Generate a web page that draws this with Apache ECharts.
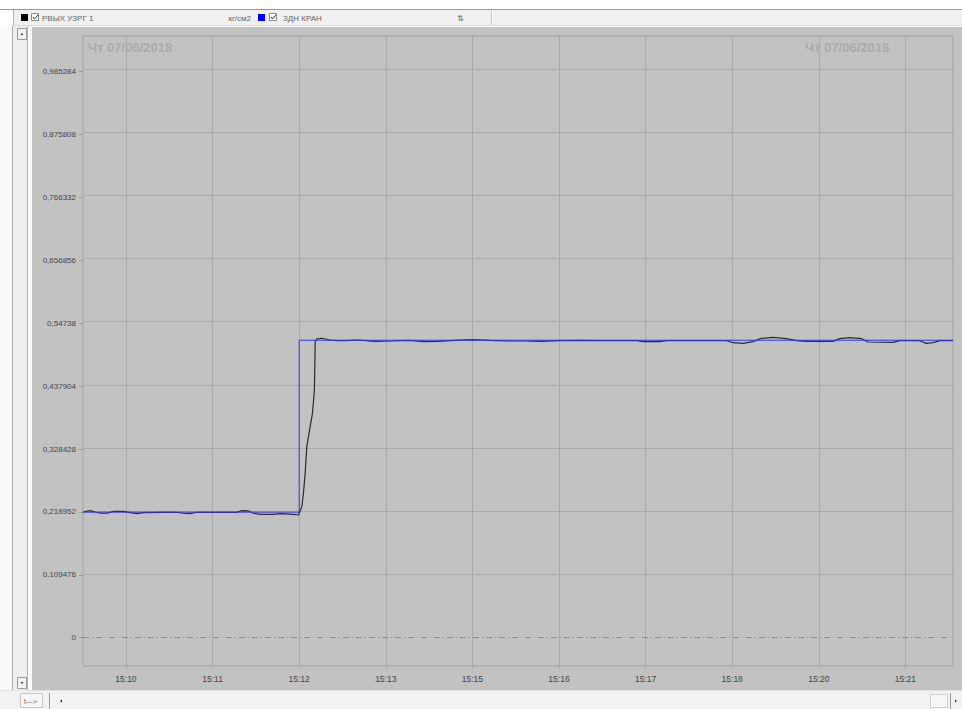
<!DOCTYPE html>
<html><head><meta charset="utf-8">
<script src="https://cdn.jsdelivr.net/npm/echarts@6/dist/echarts.min.js"></script>
<style>html,body{margin:0;padding:0;background:#fff;overflow:hidden}#c{width:962px;height:709px}</style>
</head><body><div id="c"></div>
<script>
// ---- data ----
const seriesNames = ['РВЫХ УЗРГ 1', 'ЗДН КРАН'];
const unitLabel = 'кг/см2';
const dateLabel = 'Чт 07/06/2018';
// time axis in seconds after 15:10:00
const xMin = -37.2, xMax = 716.2;
const xTickValues = [0, 75, 150, 225, 300, 375, 450, 525, 600, 675];
const xTickLabels = ['15:10', '15:11', '15:12', '15:13', '15:15', '15:16', '15:17', '15:18', '15:20', '15:21'];
const yMin = -0.0493, yMax = 1.0474;
const yTickValues = [0, 0.109476, 0.218952, 0.328428, 0.437904, 0.54738, 0.656856, 0.766332, 0.875808, 0.985284];
const yTickLabels = ['0', '0,109476', '0,218952', '0,328428', '0,437904', '0,54738', '0,656856', '0,766332', '0,875808', '0,985284'];
// measured pressure (black)
const pvTime = [-37.2, -30.9, -26.6, -22.2, -16.4, -10.7, -2.1, 3.7, 9.5, 15.2, 32.5, 44.1, 49.8, 55.6, 61.4, 96.1, 100.4, 106.1, 110.4, 116.2, 127.7, 133.5, 145, 149.4,
  150.2, 152.3, 153.7, 155.2, 156.6, 159.5, 161.5, 163.2, 163.5, 163.7, 163.9, 165.3, 169.6, 176.8, 182.6,
  190, 200, 215, 230, 245, 258, 270, 285, 300, 315, 330, 345, 360, 375, 392, 410.4, 442.2, 447.9, 462.4, 468.2, 520.1, 525.8, 534.4, 543.1, 548.9, 560.4, 572, 580.7, 589.3, 612.3, 618.1, 626.8, 636.9, 642.6, 664.3, 670.1, 687.3, 693.1, 698.9, 704.7, 716.2];
const pvValue = [0.2188, 0.2211, 0.2188, 0.2166, 0.2166, 0.2200, 0.2200, 0.2176, 0.2159, 0.2176, 0.2183, 0.2183, 0.2166, 0.2159, 0.2183, 0.2183, 0.2211, 0.2206, 0.2166, 0.2148, 0.2148, 0.2159, 0.2148, 0.2136,
  0.2176, 0.2281, 0.2514, 0.2862, 0.3325, 0.3673, 0.3906, 0.4312, 0.4660, 0.4951, 0.5153, 0.5200, 0.5212, 0.5182, 0.5170,
  0.5170, 0.5182, 0.5159, 0.5165, 0.5176, 0.5153, 0.5159, 0.5176, 0.5188, 0.5176, 0.5165, 0.5165, 0.5159, 0.5170, 0.5176, 0.5170, 0.5170, 0.5153, 0.5153, 0.5170, 0.5170, 0.5135, 0.5124, 0.5153, 0.5205, 0.5229, 0.5205, 0.5170, 0.5159, 0.5159, 0.5205, 0.5223, 0.5205, 0.5147, 0.5141, 0.5170, 0.5170, 0.5124, 0.5135, 0.5170, 0.5170];
// setpoint (blue)
const spTime = [-37.2, 150, 150, 716.2];
const spValue = [0.2185, 0.2185, 0.5178, 0.5178];

// ---- build ----
const zip = (a, b) => a.map((t, i) => [t, b[i]]);
const labelFor = (vals, labs) => v => { const i = vals.findIndex(x => Math.abs(x - v) < 1e-6); return i < 0 ? '' : labs[i]; };

const gridLines = [];
yTickValues.forEach(v => { if (v !== 0) gridLines.push({ yAxis: v, lineStyle: { color: '#aaaaaa', width: 1, type: 'solid' } }); });
xTickValues.forEach(v => gridLines.push({ xAxis: v, lineStyle: { color: '#aaaaaa', width: 1, type: 'solid' } }));
gridLines.push({ yAxis: 0, lineStyle: { color: '#8c8c8c', width: 1, type: [6, 3, 1, 3] } });

const txt = (x, y, s, o) => ({ type: 'text', x, y, z: 6, silent: true, style: Object.assign({ text: s, fill: '#666', font: '8px "Liberation Sans"', verticalAlign: 'middle' }, o || {}) });
const rect = (x, y, w, h, fill, stroke, z) => ({ type: 'rect', shape: { x, y, width: w, height: h }, silent: true, z: z == null ? -10 : z, style: { fill, stroke: stroke || null, lineWidth: 1 } });
const line = (x1, y1, x2, y2, c, z) => ({ type: 'line', shape: { x1, y1, x2, y2 }, silent: true, z: z == null ? -5 : z, style: { stroke: c, lineWidth: 1 } });
const check = (x, y) => ({ type: 'polyline', silent: true, z: 6, shape: { points: [[x + 1.5, y + 3.5], [x + 3, y + 5.5], [x + 6.5, y + 1.5]] }, style: { stroke: '#333', lineWidth: 1, fill: null } });
const tri = (pts) => ({ type: 'polygon', silent: true, z: 6, shape: { points: pts }, style: { fill: '#333' } });

const graphics = [
  // gray work area
  rect(32, 27, 930, 663, '#c2c2c2'),
  // top header
  line(0, 9.5, 962, 9.5, '#9a9a9a'),
  rect(13, 10, 949, 16, '#f0f0f0', null, -8),
  line(13.5, 10, 13.5, 26, '#b4b4b4'),
  line(13, 25.5, 962, 25.5, '#dcdcdc'),
  line(491.5, 11, 491.5, 25, '#c8c8c8'),
  line(492.5, 11, 492.5, 25, '#fafafa'),
  rect(21, 14, 7, 7, '#000000', null, 5),
  rect(31.5, 13.5, 7, 7, '#ffffff', '#8a8a8a', 5), check(31.5, 13.5),
  txt(42, 18, seriesNames[0]),
  txt(251, 18, unitLabel, { align: 'right' }),
  rect(258, 14, 7, 7, '#0000ff', null, 5),
  rect(269.5, 13.5, 7, 7, '#ffffff', '#8a8a8a', 5), check(269.5, 13.5),
  txt(283, 18, seriesNames[1]),
  txt(457, 18, '⇅', { font: '8px "DejaVu Sans"', fill: '#666' }),
  // left panel with scrollbar
  rect(0, 26, 32, 664, '#fafafa', null, -8),
  line(12.5, 26, 12.5, 690, '#a8a8a8'),
  rect(13, 26, 14, 664, '#eeeeee', null, -7),
  line(27.5, 26, 27.5, 690, '#b0b0b0'),
  rect(17.5, 28.5, 9, 11, '#f2f2f2', '#9a9a9a', -4),
  tri([[20.5, 35], [22, 33], [23.5, 35]]),
  rect(17.5, 677.5, 9, 11, '#f2f2f2', '#9a9a9a', -4),
  tri([[20.5, 682], [22, 684], [23.5, 682]]),
  // bottom bar
  rect(0, 690, 962, 19, '#f2f2f2', null, -8),
  line(0, 690.5, 962, 690.5, '#e0e0e0'),
  rect(20.5, 693.5, 22, 14, '#f6f6f6', '#c8c8c8', -4),
  txt(24, 701, 't--->', { fill: '#666', font: '7px "Liberation Sans"' }),
  line(49.5, 693, 49.5, 709, '#9a9a9a'),
  tri([[60, 701], [62, 699.5], [62, 702.5]]),
  rect(930.5, 694.5, 17, 13, '#f6f6f6', '#d0d0d0', -4),
  line(950.5, 693, 950.5, 709, '#9a9a9a'),
  tri([[957, 701], [955, 699.5], [955, 702.5]]),
  // date captions
  txt(88, 47, dateLabel, { fill: '#ababab', font: 'bold 13px "Liberation Sans"' }),
  txt(805, 47, dateLabel, { fill: '#ababab', font: 'bold 13px "Liberation Sans"' })
];

const chart = echarts.init(document.getElementById('c'), null, { renderer: 'svg' });
chart.setOption({
  animation: false,
  backgroundColor: '#ffffff',
  textStyle: { fontFamily: 'Liberation Sans' },
  graphic: { elements: graphics },
  grid: { left: 83, right: 9, top: 36, bottom: 43, show: true, backgroundColor: 'transparent', borderColor: '#a2a2a2', borderWidth: 1, containLabel: false, z: 1 },
  xAxis: {
    type: 'value', min: xMin, max: xMax,
    axisLine: { show: false, onZero: false },
    splitLine: { show: false },
    axisTick: { show: true, length: 3, customValues: xTickValues, lineStyle: { color: '#a8a8a8' } },
    axisLabel: { customValues: xTickValues, formatter: labelFor(xTickValues, xTickLabels), color: '#444', fontSize: 8.5, fontFamily: 'Liberation Sans', margin: 8 }
  },
  yAxis: {
    type: 'value', min: yMin, max: yMax,
    axisLine: { show: false, onZero: false },
    splitLine: { show: false },
    axisTick: { show: true, length: 4, customValues: yTickValues, lineStyle: { color: '#999' } },
    axisLabel: { customValues: yTickValues, formatter: labelFor(yTickValues, yTickLabels), color: '#444', fontSize: 8, fontFamily: 'Liberation Sans', margin: 7 }
  },
  series: [
    {
      name: seriesNames[0], type: 'line', data: zip(pvTime, pvValue), showSymbol: false, symbol: 'none',
      lineStyle: { color: '#2b2b2b', width: 1.2 }, z: 3,
      markLine: { silent: true, symbol: 'none', z: 1, label: { show: false }, animation: false, data: gridLines }
    },
    {
      name: seriesNames[1], type: 'line', data: zip(spTime, spValue), showSymbol: false, symbol: 'none',
      lineStyle: { color: '#3434f0', width: 1 }, z: 4
    }
  ]
});
</script>
</body></html>
